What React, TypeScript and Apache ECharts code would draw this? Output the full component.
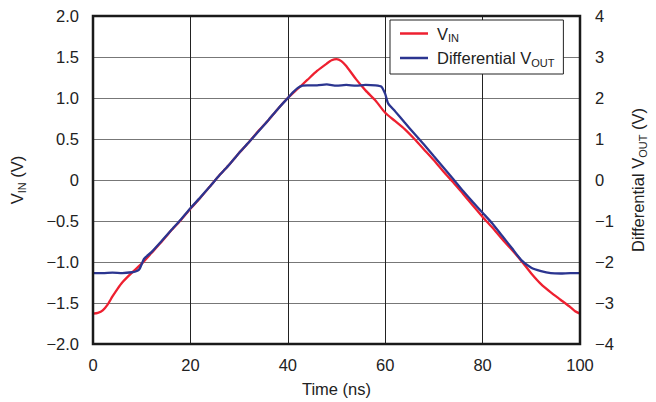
import React, { useEffect, useRef } from "react";
import * as echarts from "echarts";

// Time (ns) and V_IN (V)
const timeIn = [0, 1, 2, 3, 4, 5, 6, 8, 10, 12, 14, 16, 18, 20, 22, 24, 26, 28, 30, 32, 34, 36, 38, 40, 42, 44, 46, 48, 49, 50, 51, 52, 54, 56, 58, 60, 62, 64, 66, 68, 70, 72, 74, 76, 78, 80, 82, 84, 86, 88, 90, 92, 94, 96, 98, 99, 100];
const vIn = [-1.63, -1.62, -1.59, -1.52, -1.42, -1.33, -1.25, -1.13, -1.02, -0.89, -0.76, -0.62, -0.49, -0.35, -0.22, -0.08, 0.06, 0.19, 0.33, 0.46, 0.6, 0.73, 0.87, 1.0, 1.11, 1.22, 1.33, 1.42, 1.46, 1.475, 1.45, 1.39, 1.23, 1.09, 0.97, 0.82, 0.72, 0.62, 0.5, 0.37, 0.24, 0.1, -0.03, -0.17, -0.31, -0.45, -0.58, -0.72, -0.85, -0.99, -1.14, -1.27, -1.37, -1.46, -1.55, -1.6, -1.63];

// Time (ns) and differential V_OUT (V)
const timeOut = [0, 2, 4, 6, 8, 9, 9.6, 10.5, 12, 14, 16, 18, 20, 22, 24, 26, 28, 30, 32, 34, 36, 38, 40, 41, 42, 43, 44, 46, 48, 50, 52, 54, 56, 58, 59.2, 60, 60.6, 62, 64, 66, 68, 70, 72, 74, 76, 78, 80, 82, 84, 86, 88, 90, 92, 94, 96, 98, 100];
const vOut = [-2.27, -2.27, -2.26, -2.27, -2.25, -2.22, -2.16, -1.92, -1.76, -1.5, -1.23, -0.97, -0.69, -0.43, -0.16, 0.12, 0.38, 0.66, 0.92, 1.19, 1.46, 1.74, 2.0, 2.13, 2.24, 2.3, 2.31, 2.31, 2.33, 2.3, 2.32, 2.3, 2.32, 2.31, 2.28, 2.1, 1.87, 1.68, 1.4, 1.13, 0.86, 0.58, 0.3, 0.02, -0.27, -0.54, -0.8, -1.06, -1.36, -1.66, -1.96, -2.14, -2.22, -2.27, -2.28, -2.27, -2.27];

const xTicks = [0, 20, 40, 60, 80, 100];

const FONT = "'Liberation Sans', Arial, Helvetica, sans-serif";
const FS = 16.5;
const minus = (s: string) => s.replace("-", "\u2212");

export default function App() {
  const ref = useRef<HTMLDivElement>(null);
  useEffect(() => {
    if (!ref.current) return;
    const chart = echarts.init(ref.current, undefined, { renderer: "svg" });
    const rich = {
      a: { fontSize: FS, fontFamily: FONT, color: "#222" },
      s: { fontSize: 11, fontFamily: FONT, color: "#222", padding: [9, 0, 0, 0] },
    };
    chart.setOption({
      animation: false,
      backgroundColor: "#fff",
      textStyle: { fontFamily: FONT },
      grid: {
        left: 93,
        right: 76,
        top: 16,
        bottom: 58,
        show: true,
        borderColor: "#1a1a1a",
        borderWidth: 2.5,
        backgroundColor: "transparent",
        z: 10,
      },
      legend: {
        data: ["VIN", "VOUT"],
        orient: "vertical",
        left: 390,
        top: 20,
        backgroundColor: "#fff",
        borderColor: "#222",
        borderWidth: 1,
        borderRadius: 0,
        padding: [5, 9, 6, 10],
        itemGap: 6,
        itemWidth: 28,
        itemHeight: 2.5,
        icon: "rect",
        formatter: (name: string) =>
          name === "VIN" ? "{a|V}{s|IN}" : "{a|Differential V}{s|OUT}",
        textStyle: { rich, padding: [0, 0, 0, 4] },
      },
      xAxis: {
        type: "value",
        min: 0,
        max: 100,
        interval: 20,
        name: "Time (ns)",
        nameLocation: "middle",
        nameGap: 36,
        nameTextStyle: { fontSize: FS, color: "#222", fontFamily: FONT },
        axisLine: { show: false },
        axisTick: { show: false },
        axisLabel: {
          margin: 12,
          fontSize: FS,
          color: "#222",
          fontFamily: FONT,
          formatter: (v: number) => (xTicks.includes(v) ? String(v) : ""),
        },
        splitLine: { show: true, lineStyle: { color: "#222", width: 1 } },
      },
      yAxis: [
        {
          type: "value",
          min: -2,
          max: 2,
          interval: 0.5,
          name: "{a|V}{s|IN}{a| (V)}",
          nameLocation: "middle",
          nameRotate: 90,
          nameGap: 66,
          nameTextStyle: { rich },
          axisLine: { show: false },
          axisTick: { show: false },
          axisLabel: {
            margin: 14,
            fontSize: FS,
            color: "#222",
            fontFamily: FONT,
            formatter: (v: number) => (v === 0 ? "0" : minus(v.toFixed(1))),
          },
          splitLine: { show: true, lineStyle: { color: "#777", width: 1.2 } },
        },
        {
          type: "value",
          min: -4,
          max: 4,
          interval: 1,
          position: "right",
          name: "{a|Differential V}{s|OUT}{a| (V)}",
          nameLocation: "middle",
          nameRotate: 90,
          nameGap: 48,
          nameTextStyle: { rich },
          axisLine: { show: false },
          axisTick: { show: false },
          axisLabel: {
            margin: 15,
            fontSize: FS,
            color: "#222",
            fontFamily: FONT,
            formatter: (v: number) => minus(String(v)),
          },
          splitLine: { show: false },
        },
      ],
      series: [
        {
          name: "VIN",
          type: "line",
          yAxisIndex: 0,
          symbol: "none",
          smooth: 0.2,
          lineStyle: { color: "#ee2030", width: 2.3 },
          itemStyle: { color: "#ee2030" },
          data: timeIn.map((t, i) => [t, vIn[i]]),
          z: 3,
        },
        {
          name: "VOUT",
          type: "line",
          yAxisIndex: 1,
          symbol: "none",
          smooth: 0.2,
          lineStyle: { color: "#2b3590", width: 2.3 },
          itemStyle: { color: "#2b3590" },
          data: timeOut.map((t, i) => [t, vOut[i]]),
          z: 4,
        },
      ],
    });
    return () => chart.dispose();
  }, []);
  return (
    <div
      ref={ref}
      style={{ position: "fixed", left: 0, top: 0, width: 656, height: 402, background: "#fff" }}
    />
  );
}
